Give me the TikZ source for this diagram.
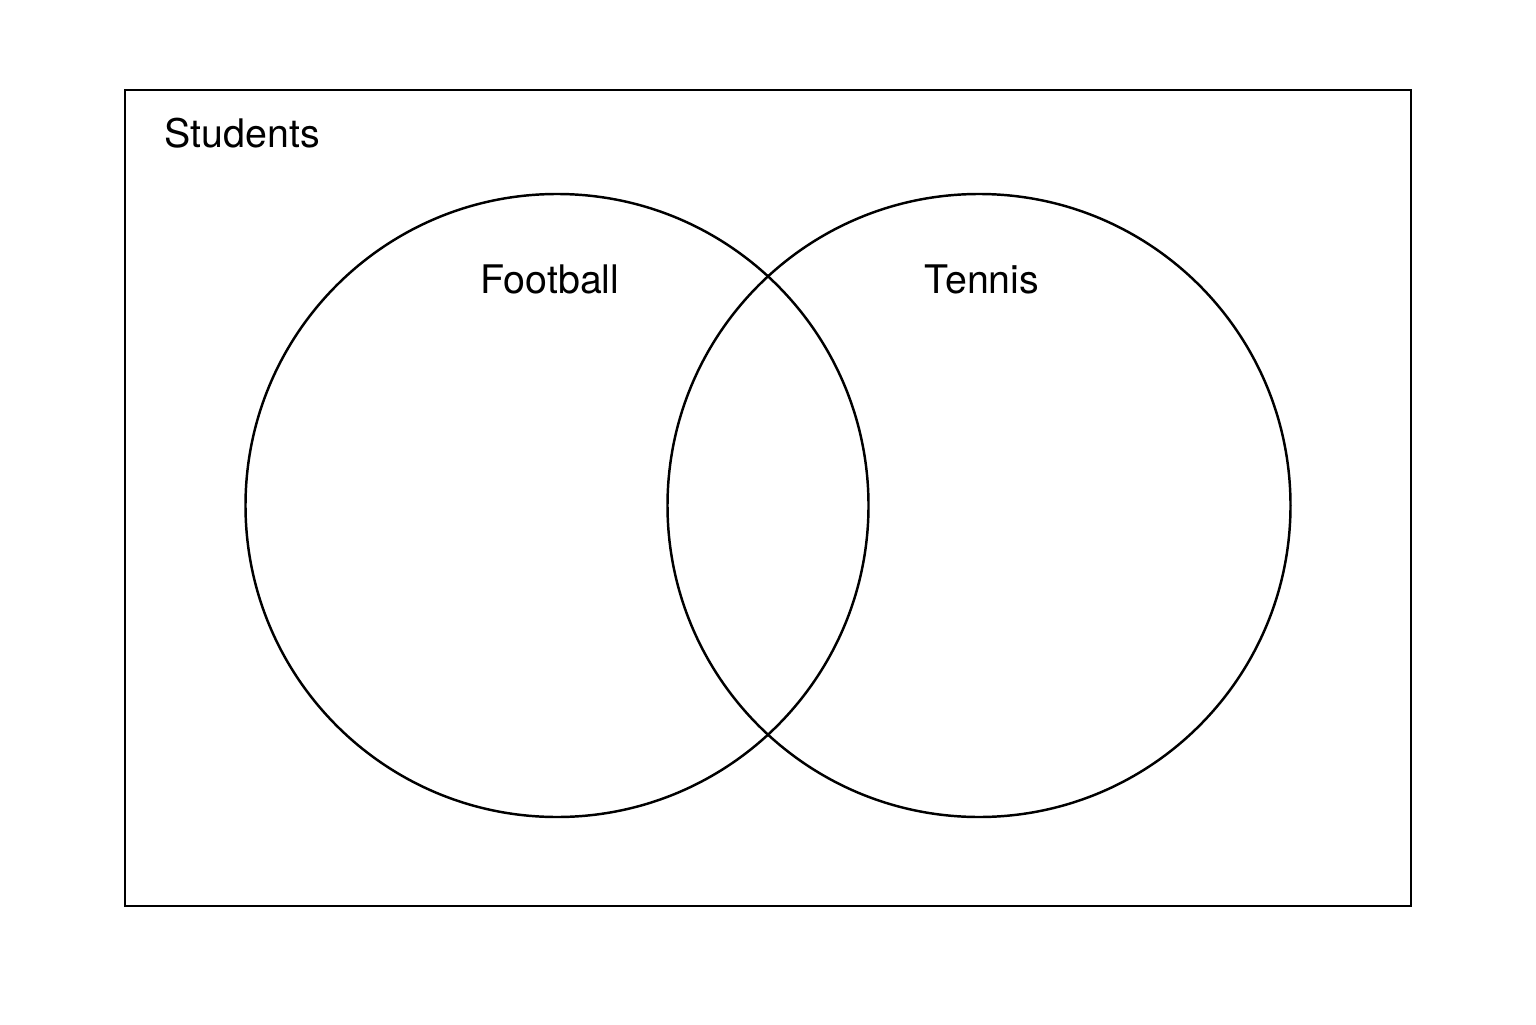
\documentclass[tikz,border=0pt]{standalone}
\usepackage{fontspec}
\setmainfont{TeX Gyre Heros}
\usepackage{tikz}
\usetikzlibrary{positioning,shapes}
\usepackage{xcolor}
\tikzstyle{universe} = [rectangle, draw=black, line width=0.7pt]
\tikzstyle{setcircle} = [circle, draw=black, line width=0.7pt, minimum size=6.23cm, inner sep=0pt]
\tikzstyle{setlabel} = [font=\fontsize{11.2}{14}\selectfont, inner sep=0pt]

\begin{document}
\begin{tikzpicture}
\useasboundingbox (0,0) rectangle (15.36,10.24);
\node (students) [universe, minimum width=12.86cm, minimum height=8.16cm] at (7.68,5.26) {};
\node (football) [setcircle] at (5.57,5.185) {};
\node (tennis) [setcircle] at (9.79,5.185) {};
\node (lblstudents) [setlabel, anchor=west] at (1.64,8.91) {Students};
\node (lblfootball) [setlabel] at (5.50,7.45) {Football};
\node (lbltennis) [setlabel] at (9.82,7.45) {Tennis};
\end{tikzpicture}
\end{document}
